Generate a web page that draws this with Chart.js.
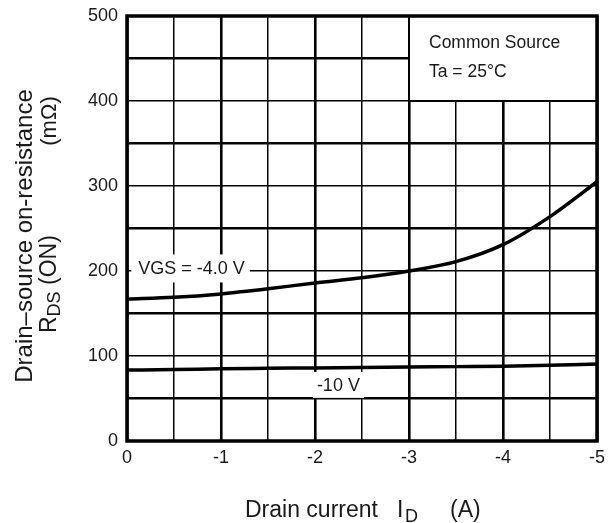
<!DOCTYPE html>
<html>
<head>
<meta charset="utf-8">
<script src="https://cdn.jsdelivr.net/npm/chart.js@4/dist/chart.umd.min.js"></script>
<style>
html,body{margin:0;padding:0;background:#fff;}
#wrap{width:609px;height:523px;position:relative;}
</style>
</head>
<body>
<div id="wrap"><canvas id="c" width="609" height="523"></canvas></div>
<script>
// Data
const currentA = [0, -0.5, -1, -1.5, -2, -2.5, -3, -3.5, -4, -4.5, -5];
const rdsVgs4 = [167, 169, 173, 179, 186, 192, 200, 211, 231, 264, 305];
const rdsVgs10 = [83.5, 84, 85, 85.5, 86, 86.5, 87, 87.5, 88, 89, 90.5];
const xTickLabels = ['0', '-1', '-2', '-3', '-4', '-5'];
const yTickLabels = ['0', '100', '200', '300', '400', '500'];
const seriesLabels = ['VGS = -4.0 V', '-10 V'];
const noteLines = ['Common Source', 'Ta = 25°C'];

const FONT = '"Liberation Sans", Arial, sans-serif';
const INK = '#1a1a1a';

function pts(xs, ys){ return xs.map((x,i)=>({x:x, y:ys[i]})); }

const overlay = {
  id: 'overlay',
  afterDatasetsDraw(chart){
    const ctx = chart.ctx;
    const xs = chart.scales.x, ys = chart.scales.y;
    const ca = chart.chartArea;
    ctx.save();
    // Series labels with white backgrounds
    ctx.font = '18px ' + FONT;
    ctx.textBaseline = 'middle';
    ctx.textAlign = 'left';
    function label(text, xv, yv, padL, padR, h){
      const px = xs.getPixelForValue(xv), py = ys.getPixelForValue(yv);
      const w = ctx.measureText(text).width;
      ctx.fillStyle = '#fff';
      ctx.fillRect(px - padL, py - h/2, w + padL + padR, h);
      ctx.fillStyle = INK;
      ctx.fillText(text, px, py + 1);
    }
    label(seriesLabels[0], -0.12, 203, 7, 5, 28);
    label(seriesLabels[1], -2.02, 66, 4, 4, 26);

    // Note box
    const bx0 = xs.getPixelForValue(-3), by1 = ys.getPixelForValue(400);
    ctx.fillStyle = '#fff';
    ctx.fillRect(bx0, ca.top, ca.right - bx0, by1 - ca.top);
    ctx.strokeStyle = '#000';
    ctx.lineWidth = 2;
    ctx.strokeRect(bx0, ca.top, ca.right - bx0, by1 - ca.top);
    ctx.fillStyle = INK;
    ctx.font = '17.5px ' + FONT;
    ctx.fillText(noteLines[0], bx0 + 20, ca.top + 27);
    ctx.fillText(noteLines[1], bx0 + 20, ca.top + 56);

    // Frame
    ctx.lineWidth = 3.5;
    ctx.strokeStyle = '#000';
    ctx.strokeRect(ca.left, ca.top, ca.right - ca.left, ca.bottom - ca.top);

    // Axis titles
    ctx.fillStyle = INK;
    ctx.textBaseline = 'alphabetic';
    // X title: "Drain current   I_D   (A)"
    let x = 245, y = 517;
    ctx.font = '23px ' + FONT;
    ctx.fillText('Drain current', x, y);
    ctx.fillText('I', 397, y);
    ctx.font = '18px ' + FONT;
    ctx.fillText('D', 405, y + 5);
    ctx.font = '23px ' + FONT;
    ctx.fillText('(A)', 450, y);

    // Y title line 1, rotated
    ctx.save();
    ctx.translate(32, 236);
    ctx.rotate(-Math.PI/2);
    ctx.textAlign = 'center';
    ctx.font = '24px ' + FONT;
    ctx.fillText('Drain\u2013source on-resistance', 0, 0);
    ctx.restore();

    // Y title line 2: R_DS (ON)   (mΩ)
    ctx.save();
    ctx.translate(56, 333);
    ctx.rotate(-Math.PI/2);
    ctx.textAlign = 'left';
    let t = 0;
    ctx.font = '23px ' + FONT;
    ctx.fillText('R', t, 0); t += ctx.measureText('R').width;
    ctx.font = '18px ' + FONT;
    ctx.fillText('DS', t, 4); t += ctx.measureText('DS').width;
    ctx.font = '23px ' + FONT;
    ctx.fillText(' (ON)', t, 0);
    ctx.textAlign = 'center';
    ctx.font = '22px ' + FONT;
    ctx.fillText('(m\u03A9)', 333 - 121, 0);
    ctx.restore();

    ctx.restore();
  }
};

new Chart(document.getElementById('c'), {
  type: 'line',
  data: {
    datasets: [
      { data: pts(currentA, rdsVgs4), borderColor: '#000', borderWidth: 3.5, pointRadius: 0, cubicInterpolationMode: 'monotone', fill: false },
      { data: pts(currentA, rdsVgs10), borderColor: '#000', borderWidth: 3.5, pointRadius: 0, cubicInterpolationMode: 'monotone', fill: false }
    ]
  },
  options: {
    responsive: false,
    animation: false,
    devicePixelRatio: 1,
    layout: { padding: { top: 16, right: 12, left: 0, bottom: 0 } },
    plugins: { legend: { display: false }, tooltip: { enabled: false }, title: { display: false } },
    scales: {
      x: {
        type: 'linear', min: -5, max: 0, reverse: true,
        afterFit: s => { s.height = 82; s.paddingLeft = 0; s.paddingRight = 0; },
        border: { display: false },
        grid: {
          color: '#000', drawTicks: false,
          lineWidth: c => (Math.abs(c.tick.value % 1) < 1e-6 ? 2.6 : 1.5)
        },
        ticks: {
          stepSize: 0.5, autoSkip: false, maxRotation: 0, padding: 6,
          color: INK, font: { size: 18, family: FONT },
          callback: v => {
            if (Math.abs(v % 1) > 1e-6) return '';
            const i = Math.round(-v);
            return xTickLabels[i];
          }
        }
      },
      y: {
        type: 'linear', min: 0, max: 500,
        afterFit: s => { s.width = 127; s.paddingTop = 0; s.paddingBottom = 0; },
        border: { display: false },
        grid: {
          color: '#000', drawTicks: false,
          lineWidth: c => (c.tick.value % 100 === 0 ? 1.5 : 2.6)
        },
        ticks: {
          stepSize: 50, autoSkip: false, padding: 9,
          color: INK, font: { size: 18, family: FONT },
          callback: v => (v % 100 === 0 ? yTickLabels[v/100] : '')
        }
      }
    }
  },
  plugins: [overlay]
});
</script>
</body>
</html>
